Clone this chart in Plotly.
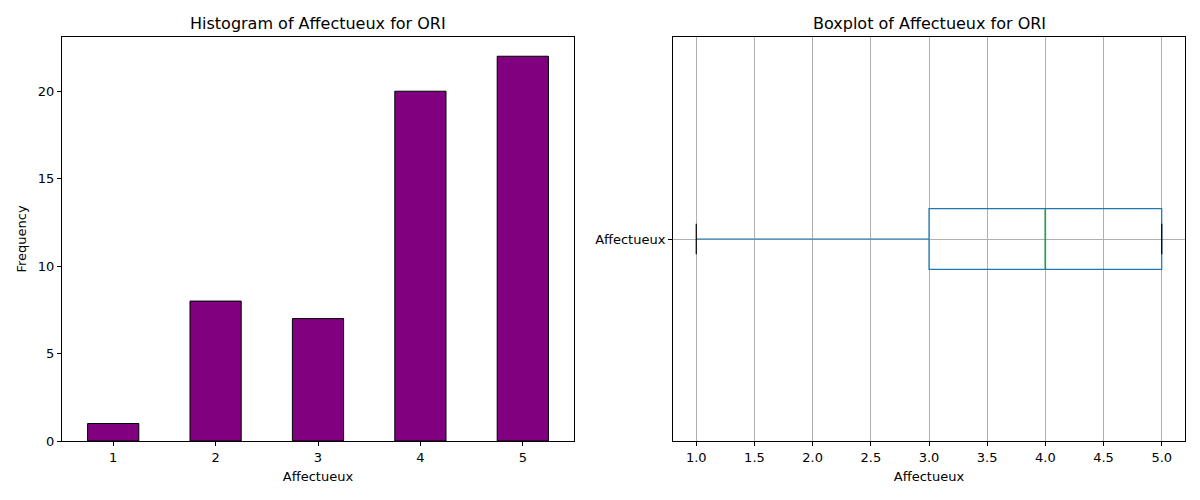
import plotly.graph_objects as go

# histogram counts per score
scores = [1, 2, 3, 4, 5]
counts = [1, 8, 7, 20, 22]

# boxplot summary stats
box_label = "Affectueux"
whisker_low = 1
q1 = 3
median = 4
q3 = 5
whisker_high = 5

font = dict(family="DejaVu Sans", size=13, color="black")
box_w = 0.15

fig = go.Figure()

fig.add_trace(go.Bar(
    x=scores, y=counts, width=0.5,
    marker=dict(color="#800080", line=dict(color="black", width=1)),
    xaxis="x", yaxis="y", showlegend=False,
))

fig.add_trace(go.Box(
    y=[0], q1=[q1], median=[median], q3=[q3],
    lowerfence=[whisker_low], upperfence=[whisker_high],
    orientation="h", width=box_w, whiskerwidth=0,
    line=dict(color="#1f77b4", width=1.2), fillcolor="rgba(0,0,0,0)",
    boxpoints=False, xaxis="x2", yaxis="y2", showlegend=False, name=box_label,
))

# median line (green) and whisker caps (black), like matplotlib
fig.add_trace(go.Scatter(
    x=[median, median], y=[-box_w / 2, box_w / 2], mode="lines",
    line=dict(color="#2ca02c", width=1.5), xaxis="x2", yaxis="y2", showlegend=False,
))
fig.add_trace(go.Scatter(
    x=[whisker_low, whisker_low, None, whisker_high, whisker_high],
    y=[-box_w / 4, box_w / 4, None, -box_w / 4, box_w / 4], mode="lines",
    line=dict(color="black", width=1.2), xaxis="x2", yaxis="y2", showlegend=False,
))

axis_common = dict(showline=True, linecolor="black", linewidth=1, mirror=True,
                   ticks="outside", ticklen=4, tickcolor="black", zeroline=False,
                   tickfont=font, automargin=False)

fig.update_layout(
    width=1200, height=500,
    margin=dict(l=0, r=0, t=0, b=0),
    paper_bgcolor="white", plot_bgcolor="white",
    font=font,
    xaxis=dict(domain=[62 / 1200, 574 / 1200], range=[0.5, 5.5], tickvals=scores,
               showgrid=False, anchor="y",
               title=dict(text="Affectueux", font=font, standoff=8), **axis_common),
    yaxis=dict(domain=[59 / 500, 463 / 500], range=[0, 23.1], tickvals=[0, 5, 10, 15, 20],
               showgrid=False, anchor="x",
               title=dict(text="Frequency", font=font, standoff=8), **axis_common),
    xaxis2=dict(domain=[673 / 1200, 1185 / 1200], range=[0.8, 5.2], dtick=0.5, tick0=1,
                tickformat=".1f", showgrid=True, gridcolor="#b0b0b0", gridwidth=1,
                anchor="y2",
                title=dict(text="Affectueux", font=font, standoff=8), **axis_common),
    yaxis2=dict(domain=[59 / 500, 463 / 500], range=[-0.5, 0.5], tickvals=[0],
                ticktext=[box_label], showgrid=True, gridcolor="#b0b0b0", gridwidth=1,
                anchor="x2", **axis_common),
    annotations=[
        dict(text="Histogram of Affectueux for ORI", x=318 / 1200, y=1 - 23 / 500,
             xref="paper", yref="paper", showarrow=False, xanchor="center", yanchor="middle",
             font=dict(family="DejaVu Sans", size=16, color="black")),
        dict(text="Boxplot of Affectueux for ORI", x=929 / 1200, y=1 - 23 / 500,
             xref="paper", yref="paper", showarrow=False, xanchor="center", yanchor="middle",
             font=dict(family="DejaVu Sans", size=16, color="black")),
    ],
)

# drop the default page margin so the figure sits at the window's corner
fig.write_html("out.html", config={"displayModeBar": False},
               post_script="document.body.style.margin = '0';")
